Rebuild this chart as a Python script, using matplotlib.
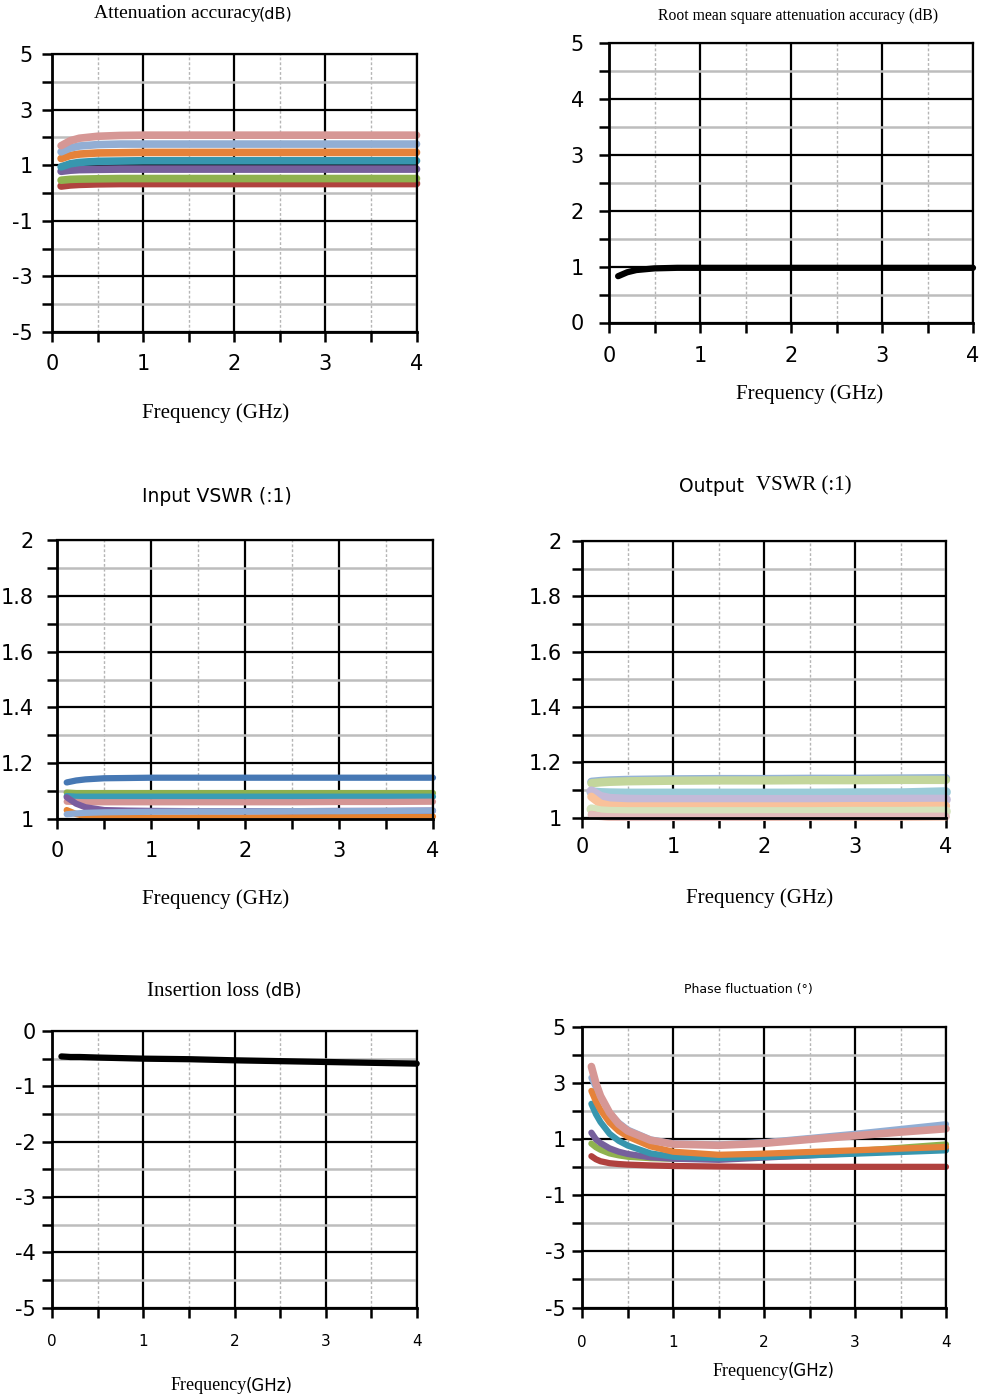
import matplotlib
matplotlib.use('Agg')
import matplotlib.pyplot as plt

W, H = 984, 1399
fig = plt.figure(figsize=(W / 100, H / 100), dpi=100)

SERIF = 'Liberation Serif'
SANS = 'DejaVu Sans'

# ---------------- data ----------------
freq = [0.1, 0.2, 0.3, 0.5, 0.75, 1.0, 1.5, 2.0, 2.5, 3.0, 3.5, 4.0]
ph_freq = [0.1, 0.15, 0.2, 0.3, 0.4, 0.5, 0.75, 1.0, 1.5, 2.0, 2.5, 3.0, 3.5, 4.0]
xticks = [0, 1, 2, 3, 4]
xticklabels = ['0', '1', '2', '3', '4']

# Attenuation accuracy (dB)
att_red = [0.25, 0.29, 0.31, 0.33, 0.34, 0.34, 0.34, 0.34, 0.34, 0.34, 0.34, 0.34]
att_green = [0.46, 0.49, 0.50, 0.51, 0.52, 0.52, 0.52, 0.52, 0.52, 0.52, 0.52, 0.52]
att_purple = [0.78, 0.82, 0.84, 0.85, 0.86, 0.86, 0.86, 0.86, 0.86, 0.86, 0.86, 0.86]
att_teal = [0.94, 1.05, 1.10, 1.14, 1.15, 1.16, 1.16, 1.16, 1.16, 1.16, 1.16, 1.16]
att_orange = [1.24, 1.35, 1.40, 1.44, 1.45, 1.46, 1.46, 1.46, 1.46, 1.46, 1.46, 1.46]
att_lblue = [1.48, 1.62, 1.69, 1.74, 1.76, 1.76, 1.76, 1.76, 1.76, 1.76, 1.76, 1.76]
att_pink = [1.70, 1.88, 1.97, 2.04, 2.07, 2.08, 2.08, 2.08, 2.08, 2.08, 2.08, 2.08]

# RMS attenuation accuracy (dB)
rms = [0.83, 0.90, 0.94, 0.97, 0.98, 0.98, 0.98, 0.98, 0.98, 0.98, 0.98, 0.98]

# Input VSWR
in_blue = [1.131, 1.138, 1.142, 1.146, 1.147, 1.148, 1.148, 1.148, 1.148, 1.148, 1.148, 1.148]
in_green = [1.095, 1.093, 1.093, 1.093, 1.093, 1.093, 1.093, 1.093, 1.093, 1.093, 1.093, 1.093]
in_teal = [1.082, 1.080, 1.080, 1.080, 1.080, 1.080, 1.080, 1.080, 1.080, 1.080, 1.080, 1.080]
in_pink = [1.062, 1.061, 1.060, 1.060, 1.060, 1.060, 1.060, 1.060, 1.060, 1.061, 1.061, 1.062]
in_orange = [1.032, 1.018, 1.010, 1.006, 1.005, 1.005, 1.005, 1.005, 1.006, 1.007, 1.008, 1.009]
in_purple = [1.078, 1.055, 1.042, 1.032, 1.030, 1.029, 1.028, 1.028, 1.028, 1.029, 1.029, 1.030]
in_lblue = [1.017, 1.020, 1.022, 1.024, 1.025, 1.026, 1.027, 1.027, 1.028, 1.028, 1.029, 1.030]

# Output VSWR
out_blue = [1.129, 1.132, 1.134, 1.136, 1.137, 1.138, 1.139, 1.139, 1.140, 1.140, 1.141, 1.142]
out_olive = [1.124, 1.127, 1.129, 1.131, 1.132, 1.133, 1.134, 1.134, 1.135, 1.135, 1.136, 1.136]
out_aqua = [1.092, 1.089, 1.088, 1.087, 1.087, 1.087, 1.087, 1.087, 1.087, 1.088, 1.088, 1.092]
out_lavender = [1.095, 1.075, 1.068, 1.065, 1.064, 1.064, 1.064, 1.064, 1.064, 1.064, 1.065, 1.065]
out_peach = [1.075, 1.050, 1.043, 1.040, 1.040, 1.040, 1.040, 1.040, 1.040, 1.041, 1.041, 1.042]
out_palegreen = [1.030, 1.023, 1.021, 1.020, 1.020, 1.020, 1.020, 1.020, 1.020, 1.021, 1.021, 1.022]
out_orange = [1.012, 1.004, 1.001, 1.000, 1.000, 1.000, 1.000, 1.000, 1.001, 1.001, 1.001, 1.002]
out_pink = [1.010, 1.004, 1.002, 1.001, 1.001, 1.001, 1.001, 1.002, 1.002, 1.003, 1.003, 1.004]

# Insertion loss (dB)
il = [-0.46, -0.47, -0.47, -0.48, -0.49, -0.50, -0.51, -0.53, -0.545, -0.56, -0.575, -0.59]

# Phase fluctuation (deg), sampled at ph_freq
ph_red = [0.40, 0.29, 0.22, 0.15, 0.12, 0.10, 0.07, 0.05, 0.03, 0.02, 0.02, 0.02, 0.02, 0.02]
ph_green = [0.85, 0.72, 0.63, 0.50, 0.43, 0.38, 0.33, 0.31, 0.33, 0.39, 0.47, 0.58, 0.70, 0.82]
ph_purple = [1.24, 1.00, 0.87, 0.68, 0.56, 0.48, 0.36, 0.31, 0.27, 0.35, 0.43, 0.51, 0.59, 0.67]
ph_teal = [2.27, 1.90, 1.62, 1.20, 0.95, 0.78, 0.50, 0.38, 0.33, 0.37, 0.43, 0.49, 0.55, 0.61]
ph_orange = [2.73, 2.35, 2.05, 1.60, 1.30, 1.10, 0.75, 0.56, 0.45, 0.49, 0.55, 0.61, 0.67, 0.73]
ph_lblue = [3.20, 2.85, 2.50, 1.95, 1.60, 1.35, 1.00, 0.86, 0.82, 0.90, 1.05, 1.20, 1.37, 1.54]
ph_pink = [3.60, 3.00, 2.55, 1.95, 1.55, 1.30, 0.97, 0.83, 0.79, 0.86, 1.00, 1.13, 1.26, 1.38]


# ---------------- helpers ----------------
def make_ax(left, top, right, bottom):
    return fig.add_axes([left / W, 1 - bottom / H, (right - left) / W, (bottom - top) / H])


def style(ax, ylim, ymaj, ylabels, ymin, xfs=15, yfs=15, xpad=9, ypad=6):
    ax.set_xlim(0, 4)
    ax.set_ylim(*ylim)
    ax.set_xticks(xticks, xticklabels)
    ax.set_xticks([0.5, 1.5, 2.5, 3.5], minor=True)
    ax.set_yticks(ymaj, ylabels)
    ax.set_yticks(ymin, minor=True)
    ax.set_axisbelow(True)
    ax.grid(which='major', axis='both', color='black', lw=1.6)
    ax.grid(which='minor', axis='y', color='#BDBDBD', lw=1.8)
    ax.grid(which='minor', axis='x', color='#B5B5B5', lw=1.0, ls=(0, (2, 1.5)))
    for s in ['top', 'right']:
        ax.spines[s].set_linewidth(1.6)
    for s in ['left', 'bottom']:
        ax.spines[s].set_linewidth(2.0)
    ax.tick_params(which='both', direction='out', length=7, width=1.8, color='black')
    ax.tick_params(axis='x', which='both', labelsize=xfs, pad=xpad)
    ax.tick_params(axis='y', which='both', labelsize=yfs, pad=ypad)
    for lab in ax.get_xticklabels() + ax.get_yticklabels():
        lab.set_fontfamily(SANS)


def plot(ax, x, y, color, lw=4.5):
    ax.plot(x, y, color=color, lw=lw, solid_capstyle='round', solid_joinstyle='round', clip_on=False)


def ftext(x, y, s, family, size, ha='center'):
    return fig.text(x / W, 1 - y / H, s, family=family, fontsize=size, ha=ha, va='center')


renderer = fig.canvas.get_renderer()


def mixed(x, y, parts, gap=0):
    cur = x
    for s, fam, size in parts:
        t = fig.text(cur / W, 1 - y / H, s, family=fam, fontsize=size, ha='left', va='center')
        bb = t.get_window_extent(renderer)
        cur = bb.x1 + gap


odd_maj = [-5, -3, -1, 1, 3, 5]
odd_lab = ['-5', '-3', '-1', '1', '3', '5']
even_min = [-4, -2, 0, 2, 4]

# ---------------- chart 1: attenuation accuracy ----------------
ax1 = make_ax(52, 54, 416.5, 332)
style(ax1, (-5, 5), odd_maj, odd_lab, even_min, xpad=9, ypad=7)
plot(ax1, freq, att_red, '#B0433F', 5.5)
plot(ax1, freq, att_green, '#8FB24F', 5.5)
plot(ax1, freq, att_purple, '#76609C', 5.5)
plot(ax1, freq, att_teal, '#3796AE', 5.5)
plot(ax1, freq, att_orange, '#E5823A', 5.5)
plot(ax1, freq, att_lblue, '#92AED4', 5.5)
plot(ax1, freq, att_pink, '#D69795', 5.5)
mixed(94, 14, [('Attenuation accuracy', SERIF, 14), ('(dB)', SANS, 11.5)], gap=-1.5)
ftext(216, 413, 'Frequency (GHz)', SERIF, 15)

# ---------------- chart 2: RMS attenuation accuracy ----------------
ax2 = make_ax(609, 43.5, 973, 322.5)
style(ax2, (0, 5), [0, 1, 2, 3, 4, 5], ['0', '1', '2', '3', '4', '5'],
      [0.5, 1.5, 2.5, 3.5, 4.5], xpad=10, ypad=11)
plot(ax2, freq, rms, 'black', 4.5)
ftext(798, 16, 'Root mean square attenuation accuracy (dB)', SERIF, 11.3)
ftext(810, 394, 'Frequency (GHz)', SERIF, 15)

# ---------------- chart 3: input VSWR ----------------
vs_maj = [1, 1.2, 1.4, 1.6, 1.8, 2]
vs_lab = ['1', '1.2', '1.4', '1.6', '1.8', '2']
vs_min = [1.1, 1.3, 1.5, 1.7, 1.9]
ax3 = make_ax(57.3, 540, 433, 819)
style(ax3, (1, 2), vs_maj, vs_lab, vs_min, xpad=9, ypad=10)
plot(ax3, freq, in_blue, '#4678B4', 4.5)
plot(ax3, freq, in_green, '#8CB04F', 4.5)
plot(ax3, freq, in_teal, '#3A9DB5', 4.5)
plot(ax3, freq, in_pink, '#D49595', 4.5)
plot(ax3, freq, in_orange, '#E5822F', 4.5)
plot(ax3, freq, in_purple, '#7A5C9E', 4.5)
plot(ax3, freq, in_lblue, '#8EABD4', 4.5)
ftext(217, 497, 'Input VSWR (:1)', SANS, 13.5)
ftext(216, 899, 'Frequency (GHz)', SERIF, 15)

# ---------------- chart 4: output VSWR ----------------
ax4 = make_ax(582.3, 541, 946, 817.5)
style(ax4, (1, 2), vs_maj, vs_lab, vs_min, xpad=7, ypad=8)
plot(ax4, freq, out_blue, '#95B3D7', 6)
plot(ax4, freq, out_olive, '#C3D69B', 6)
plot(ax4, freq, out_aqua, '#9ACBD8', 7)
plot(ax4, freq, out_lavender, '#C4BAD8', 7)
plot(ax4, freq, out_peach, '#F9C19A', 6)
plot(ax4, freq, out_palegreen, '#D5E3BC', 7)
plot(ax4, freq, out_orange, '#F7B58A', 5)
plot(ax4, freq, out_pink, '#E3BCBC', 5.5)
mixed(679, 486, [('Output  ', SANS, 13.5), ('VSWR (:1)', SERIF, 15)])
ftext(760, 898, 'Frequency (GHz)', SERIF, 15)

# ---------------- chart 5: insertion loss ----------------
ax5 = make_ax(52.3, 1031, 416.7, 1307.5)
style(ax5, (-5, 0), [-5, -4, -3, -2, -1, 0], ['-5', '-4', '-3', '-2', '-1', '0'],
      [-4.5, -3.5, -2.5, -1.5, -0.5], xfs=11, xpad=12, ypad=5)
plot(ax5, freq, il, 'black', 4.5)
mixed(147, 991, [('Insertion loss ', SERIF, 15), ('(dB)', SANS, 13)])
mixed(171, 1386, [('Frequency', SERIF, 13), ('(GHz)', SANS, 12)], gap=-1.5)

# ---------------- chart 6: phase fluctuation ----------------
ax6 = make_ax(582.3, 1027.3, 946, 1307.5)
style(ax6, (-5, 5), odd_maj, odd_lab, even_min, xfs=11, xpad=13, ypad=5)
plot(ax6, ph_freq, ph_red, '#B0413E', 4.5)
plot(ax6, ph_freq, ph_green, '#8FB24F', 4.5)
plot(ax6, ph_freq, ph_purple, '#76609C', 4.5)
plot(ax6, ph_freq, ph_teal, '#3796AE', 4.5)
plot(ax6, ph_freq, ph_lblue, '#92AED4', 4.5)
plot(ax6, ph_freq, ph_orange, '#E5823A', 4.5)
plot(ax6, ph_freq, ph_pink, '#D69795', 5.5)
ftext(748, 989, 'Phase fluctuation (°)', SANS, 9)
mixed(713, 1371, [('Frequency', SERIF, 13), ('(GHz)', SANS, 12)], gap=-1.5)

fig.savefig('out.png', dpi=100)
